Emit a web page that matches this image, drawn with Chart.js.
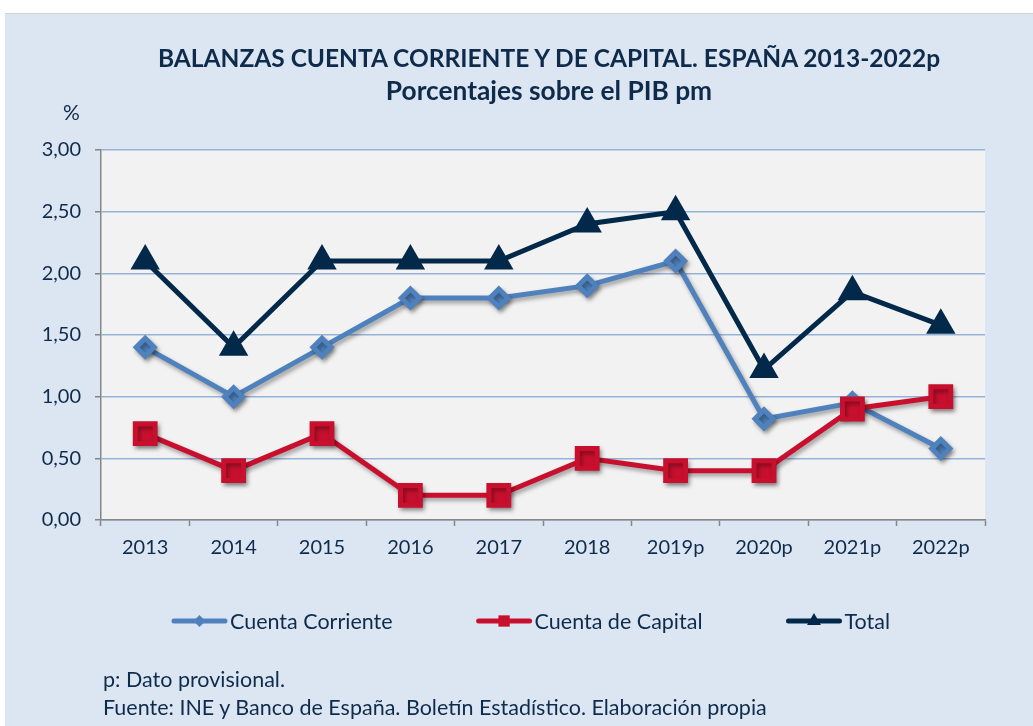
<!DOCTYPE html>
<html>
<head>
<meta charset="utf-8">
<script src="https://cdn.jsdelivr.net/npm/chart.js@4.4.0/dist/chart.umd.min.js"></script>
<style>
  body { margin: 0; background: #fff; font-family: Lato, sans-serif; }
  #frame { position: absolute; left: 5px; top: 13px; width: 1028px; height: 713px; background: #dce6f2; border-top: 1px solid #d4d4d4; }
  #wrap { position: absolute; left: 0; top: 0; width: 1033px; height: 726px; }
  .t { position: absolute; color: #0f2b4c; white-space: nowrap; }
  .title { font-weight: bold; left: 549px; transform: translateX(-50%); }
  .note { font-size: 21.5px; left: 103px; }
</style>
</head>
<body>
<div id="frame"></div>
<div id="wrap"><canvas id="chart" width="1033" height="726"></canvas></div>
<div class="t title" style="top:43px;font-size:24.5px">BALANZAS CUENTA CORRIENTE Y DE CAPITAL. ESPAÑA 2013-2022p</div>
<div class="t title" style="top:74px;font-size:26.3px">Porcentajes sobre el PIB pm</div>
<div class="t" style="left:63px;top:99px;font-size:21px">%</div>
<div class="t note" style="top:666px">p: Dato provisional.</div>
<div class="t note" style="top:694px">Fuente: INE y Banco de España. Boletín Estadístico. Elaboración propia</div>
<script>
'use strict';

const years = ['2013', '2014', '2015', '2016', '2017', '2018', '2019p', '2020p', '2021p', '2022p'];
const cuentaCorriente = [1.40, 1.00, 1.40, 1.80, 1.80, 1.90, 2.10, 0.82, 0.95, 0.58];
const cuentaCapital = [0.70, 0.40, 0.70, 0.20, 0.20, 0.50, 0.40, 0.40, 0.90, 1.00];
const total = [2.10, 1.40, 2.10, 2.10, 2.10, 2.40, 2.50, 1.22, 1.85, 1.58];
const yTicks = [0, 0.5, 1, 1.5, 2, 2.5, 3];

const textColor = '#0f2b4c';
const axisColor = '#868686';

// grey plot area
const plotBackground = {
  id: 'plotBackground',
  beforeDraw(chart) {
    const { ctx, chartArea: a } = chart;
    ctx.save();
    ctx.fillStyle = '#f2f2f2';
    ctx.fillRect(a.left, a.top, a.right - a.left, a.bottom - a.top);
    ctx.restore();
  }
};

// soft shadow under the two lighter lines
const lineShadow = {
  id: 'lineShadow',
  beforeDatasetDraw(chart, args) {
    if (args.index > 1) return;
    const ctx = chart.ctx;
    ctx.save();
    ctx.shadowColor = 'rgba(0,0,0,0.35)';
    ctx.shadowBlur = 4;
    ctx.shadowOffsetX = 2;
    ctx.shadowOffsetY = 3;
  },
  afterDatasetDraw(chart, args) {
    if (args.index > 1) return;
    chart.ctx.restore();
  }
};

// legend like the spreadsheet one: line with marker in the middle
const lineLegend = {
  id: 'lineLegend',
  afterDraw(chart) {
    const ctx = chart.ctx;
    const sampleW = 55, gap = 84, textGap = 3, y = 621, centerX = 531;
    ctx.save();
    ctx.font = '21.5px Lato';
    const items = chart.data.datasets.map(ds => ({ ds, w: sampleW + textGap + ctx.measureText(ds.label).width }));
    const totalW = items.reduce((s, it) => s + it.w, 0) + gap * (items.length - 1);
    let x = centerX - totalW / 2;
    items.forEach(({ ds, w }) => {
      ctx.strokeStyle = ds.borderColor;
      ctx.lineWidth = 5;
      ctx.lineCap = 'round';
      ctx.beginPath();
      ctx.moveTo(x + 2, y);
      ctx.lineTo(x + sampleW - 2, y);
      ctx.stroke();
      ctx.fillStyle = ds.pointBackgroundColor;
      Chart.helpers.drawPoint(ctx, {
        pointStyle: ds.pointStyle, radius: ds.legendRadius, rotation: 0, borderWidth: 0
      }, x + sampleW / 2, y);
      ctx.fillStyle = textColor;
      ctx.textBaseline = 'middle';
      ctx.fillText(ds.label, x + sampleW + textGap, y + 1);
      x += w + gap;
    });
    ctx.restore();
  }
};

new Chart(document.getElementById('chart').getContext('2d'), {
  type: 'line',
  data: {
    labels: years,
    datasets: [
      {
        label: 'Cuenta Corriente',
        data: cuentaCorriente,
        borderColor: '#4f81bd',
        backgroundColor: '#4f81bd',
        pointBackgroundColor: '#4f81bd',
        borderWidth: 5,
        pointStyle: 'rectRot',
        pointRadius: 9,
        legendRadius: 6,
        order: 2
      },
      {
        label: 'Cuenta de Capital',
        data: cuentaCapital,
        borderColor: '#c8102e',
        backgroundColor: '#c8102e',
        pointBackgroundColor: '#c8102e',
        borderWidth: 5,
        pointStyle: 'rect',
        pointRadius: 14,
        legendRadius: 8,
        order: 1
      },
      {
        label: 'Total',
        data: total,
        borderColor: '#02284a',
        backgroundColor: '#02284a',
        pointBackgroundColor: '#02284a',
        borderWidth: 5,
        pointStyle: 'triangle',
        pointRadius: 12,
        legendRadius: 8,
        order: 0
      }
    ]
  },
  options: {
    responsive: false,
    animation: false,
    devicePixelRatio: 1,
    layout: { padding: { left: 0, right: 48, top: 150, bottom: 161 } },
    plugins: {
      legend: { display: false },
      tooltip: { enabled: false }
    },
    elements: { line: { tension: 0, borderJoinStyle: 'miter' }, point: { borderWidth: 0 } },
    scales: {
      x: {
        offset: true,
        grid: { offset: true, drawOnChartArea: false, tickLength: 6, tickColor: axisColor, tickWidth: 1.5 },
        border: { color: axisColor, width: 1.5 },
        ticks: { color: textColor, font: { family: 'Lato', size: 20 }, padding: 10, maxRotation: 0 },
        afterFit(scale) { scale.height = 45; }
      },
      y: {
        min: 0,
        max: 3,
        afterBuildTicks(scale) { scale.ticks = yTicks.map(v => ({ value: v })); },
        grid: { color: '#95b3d7', lineWidth: 1.5, tickLength: 6, tickColor: axisColor },
        border: { color: axisColor, width: 1.5 },
        ticks: {
          color: textColor,
          font: { family: 'Lato', size: 20 },
          padding: 14,
          callback: v => v.toFixed(2).replace('.', ',')
        },
        afterFit(scale) { scale.width = 101; }
      }
    }
  },
  plugins: [plotBackground, lineShadow, lineLegend]
});
</script>
</body>
</html>
